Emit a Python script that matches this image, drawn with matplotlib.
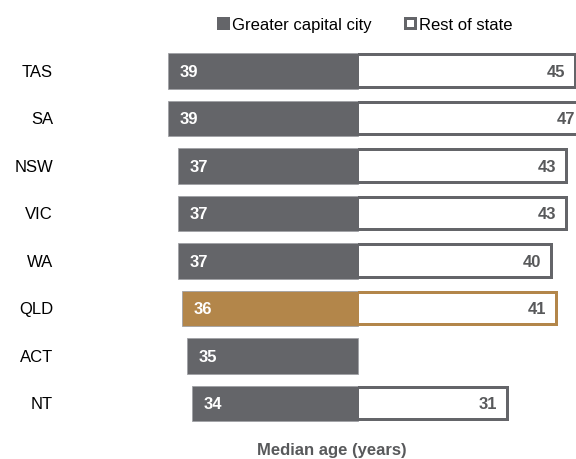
import matplotlib
matplotlib.use("Agg")
import matplotlib.pyplot as plt
from matplotlib.lines import Line2D

plt.rcParams['font.family'] = ['Liberation Sans', 'DejaVu Sans']

states = ['TAS', 'SA', 'NSW', 'VIC', 'WA', 'QLD', 'ACT', 'NT']
capital = [39, 39, 37, 37, 37, 36, 35, 34]
rest = [45, 47, 43, 43, 40, 41, None, 31]
highlight = 'QLD'

GRAY = '#646569'
GOLD = '#B3864A'
TXT = '#58595B'

fig = plt.figure(figsize=(5.76, 4.6), dpi=100)
ax = fig.add_axes([0, 0, 1, 1])
ax.set_xlim(-73.4, 44.7)
ax.set_ylim(8.168, -1.516)
ax.axis('off')

H = 0.74
FS = 12
for i, (s, c, r) in enumerate(zip(states, capital, rest)):
    col = GOLD if s == highlight else GRAY
    ax.barh(i, -c, height=H, color=col, edgecolor='#a0a1a5', linewidth=0.6, zorder=2)
    ax.text(-c + 2.4, i, str(c), ha='left', va='center', fontsize=FS,
            fontweight='bold', color='white', zorder=4)
    if r is not None:
        ax.barh(i, r, height=H, color=col, linewidth=0, zorder=2)
        ax.barh(i, r - 0.9, left=0.27, height=H - 0.126, color='white', linewidth=0, zorder=3)
        ax.text(r - 2.45, i, str(r), ha='right', va='center', fontsize=FS,
                fontweight='bold', color=TXT, zorder=4)
    ax.text(-62.55, i, s, ha='right', va='center', fontsize=FS, color='black')

ax.text(-5.3, 8.07, 'Median age (years)', ha='center', va='baseline', fontsize=FS,
        fontweight='bold', color=TXT)

handles = [
    Line2D([], [], marker='s', linestyle='none', markersize=6.5, markerfacecolor=GRAY,
           markeredgecolor=GRAY, markeredgewidth=2.16, label='Greater capital city'),
    Line2D([], [], marker='s', linestyle='none', markersize=6.5, markerfacecolor='white',
           markeredgecolor=GRAY, markeredgewidth=2.16, label='Rest of state'),
]
fig.legend(handles=handles, loc='center', bbox_to_anchor=(0.633, 0.944), ncol=2,
           frameon=False, fontsize=FS, handlelength=0.72, handletextpad=0.2,
           columnspacing=1.92, borderaxespad=0, borderpad=0)

fig.savefig('out.png', dpi=100)
